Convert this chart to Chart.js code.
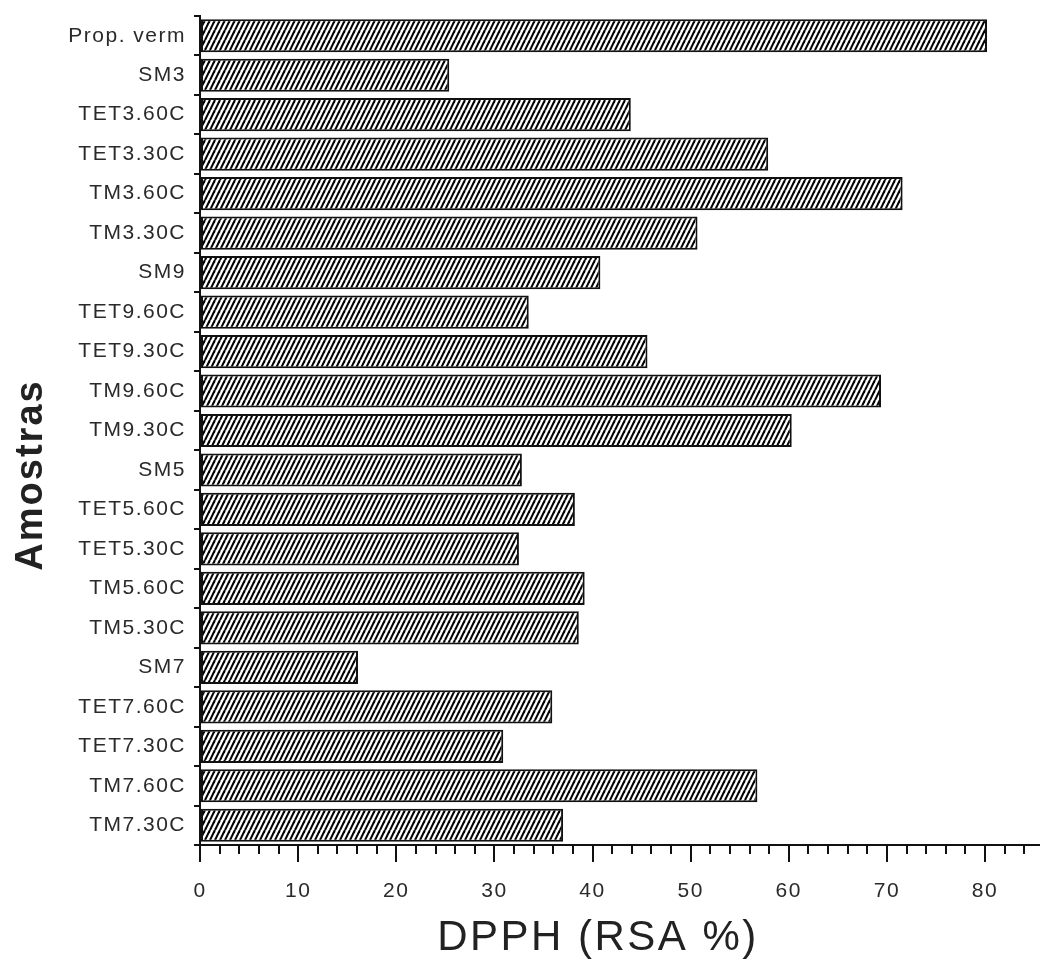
<!DOCTYPE html>
<html>
<head>
<meta charset="utf-8">
<script src="https://cdn.jsdelivr.net/npm/chart.js@4.4.1/dist/chart.umd.min.js"></script>
<style>
  html, body { margin: 0; padding: 0; background: #fff; }
  canvas { display: block; }
</style>
</head>
<body>
<canvas id="dpphChart" width="1040" height="978"></canvas>
<script>
// Samples, top to bottom as in the figure
const samples = [
  'Prop. verm', 'SM3', 'TET3.60C', 'TET3.30C', 'TM3.60C', 'TM3.30C',
  'SM9', 'TET9.60C', 'TET9.30C', 'TM9.60C', 'TM9.30C',
  'SM5', 'TET5.60C', 'TET5.30C', 'TM5.60C', 'TM5.30C',
  'SM7', 'TET7.60C', 'TET7.30C', 'TM7.60C', 'TM7.30C'
];
// DPPH radical scavenging activity (%)
const rsaValues = [
  80.2, 25.4, 43.9, 57.9, 71.6, 50.7,
  40.8, 33.5, 45.6, 69.4, 60.3,
  32.8, 38.2, 32.5, 39.2, 38.6,
  16.1, 35.9, 30.9, 56.8, 37.0
];
const xMin = 0;
const xMax = 85.6;
const majorStep = 10;
const minorStep = 2;
const xTitle = 'DPPH (RSA %)';
const yTitle = 'Amostras';

const sansFont = '"Liberation Sans", Arial, sans-serif';

// diagonal hatch fill like the original
function makeHatch() {
  const c = document.createElement('canvas');
  c.width = 5; c.height = 10;
  const g = c.getContext('2d');
  g.fillStyle = '#fff';
  g.fillRect(0, 0, 5, 10);
  g.strokeStyle = '#000';
  g.lineWidth = 2.1;
  for (let k = -1; k <= 1; k++) {
    g.beginPath();
    g.moveTo(k * 5, 10);
    g.lineTo(k * 5 + 5, 0);
    g.stroke();
  }
  return g.createPattern(c, 'repeat');
}

// wide-spaced tick text
const spacing = {
  id: 'spacing',
  beforeUpdate(chart) { chart.ctx.letterSpacing = '1.5px'; },
  beforeLayout(chart) { chart.ctx.letterSpacing = '1.5px'; },
  beforeDraw(chart) { chart.ctx.letterSpacing = '1.5px'; }
};

// longer major ticks + axis titles
const extras = {
  id: 'extras',
  afterDraw(chart) {
    const ctx = chart.ctx;
    const sx = chart.scales.x;
    ctx.save();
    ctx.strokeStyle = '#111';
    ctx.lineWidth = 2;
    sx.ticks.forEach(t => {
      if (t.value % majorStep === 0) {
        const px = Math.round(sx.getPixelForValue(t.value));
        ctx.beginPath();
        ctx.moveTo(px, sx.top);
        ctx.lineTo(px, sx.top + 17);
        ctx.stroke();
      }
    });

    ctx.fillStyle = '#222';
    ctx.letterSpacing = '2.5px';
    ctx.font = '42px ' + sansFont;
    ctx.textAlign = 'center';
    ctx.textBaseline = 'alphabetic';
    ctx.fillText(xTitle, 598, 950);

    ctx.letterSpacing = '2px';
    ctx.font = 'bold 38px ' + sansFont;
    ctx.translate(42, 475);
    ctx.rotate(-Math.PI / 2);
    ctx.fillText(yTitle, 0, 0);
    ctx.restore();
  }
};

const tickFont = { family: sansFont, size: 21 };

new Chart(document.getElementById('dpphChart').getContext('2d'), {
  type: 'bar',
  data: {
    labels: samples,
    datasets: [{
      data: rsaValues,
      backgroundColor: makeHatch(),
      borderColor: '#111',
      borderWidth: 2,
      borderSkipped: false,
      barPercentage: 0.84,
      categoryPercentage: 1
    }]
  },
  options: {
    indexAxis: 'y',
    responsive: false,
    animation: false,
    devicePixelRatio: 1,
    layout: { padding: { top: 16, right: 0, bottom: 0, left: 0 } },
    plugins: { legend: { display: false }, tooltip: { enabled: false } },
    scales: {
      x: {
        type: 'linear',
        min: xMin,
        max: xMax,
        border: { color: '#111', width: 2 },
        grid: { drawOnChartArea: false, tickLength: 9, color: '#111', lineWidth: 2 },
        ticks: {
          stepSize: minorStep,
          autoSkip: false,
          includeBounds: false,
          maxRotation: 0,
          padding: 25,
          color: '#2a2a2a',
          font: tickFont,
          callback: v => (v % majorStep === 0 ? v : '')
        },
        afterFit: s => { s.height = 133; s.paddingRight = 0; s.paddingLeft = 0; }
      },
      y: {
        border: { color: '#111', width: 2 },
        grid: { drawOnChartArea: false, offset: true, tickLength: 6, color: '#111', lineWidth: 2 },
        ticks: { padding: 8, color: '#2a2a2a', font: tickFont },
        afterFit: s => { s.width = 200; s.paddingTop = 0; s.paddingBottom = 0; }
      }
    }
  },
  plugins: [spacing, extras]
});
</script>
</body>
</html>
